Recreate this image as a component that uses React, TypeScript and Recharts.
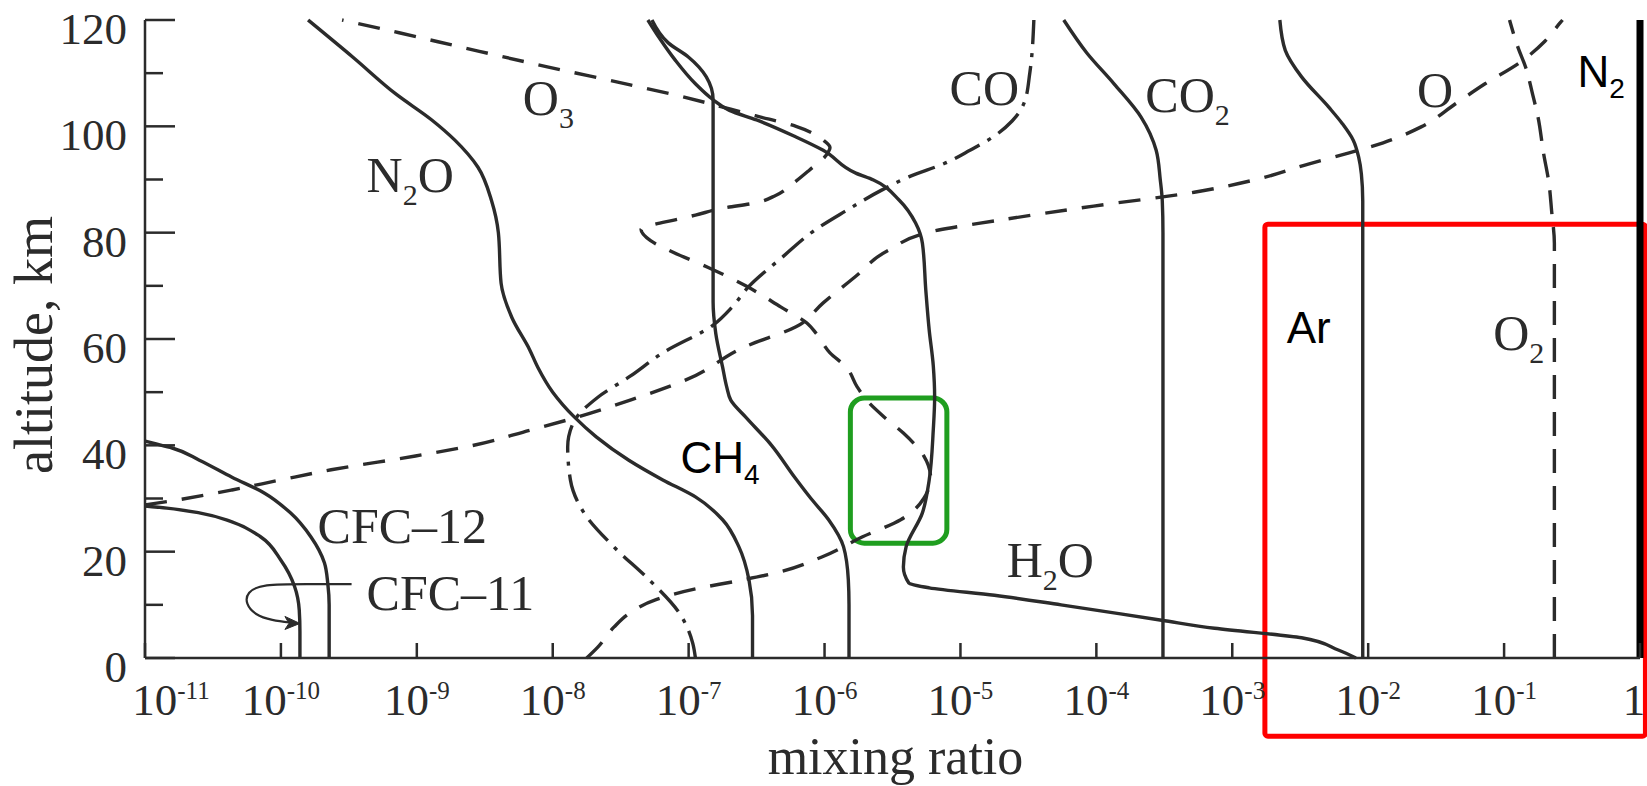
import React from 'react';
import { LineChart, Line, XAxis, YAxis, ReferenceArea, ReferenceDot } from 'recharts';

const INK = '#2b2b2b';
const SERIF = "'Liberation Serif', 'DejaVu Serif', serif";
const SANS = "'Liberation Sans', Arial, sans-serif";

// x is log10(mixing ratio), y is altitude in km
const decades = [-11, -10, -9, -8, -7, -6, -5, -4, -3, -2, -1, 0];
const altTicks = [0, 10, 20, 30, 40, 50, 60, 70, 80, 90, 100, 110, 120];

type Row = [number, number]; // [altitude, log10 ratio]

const cfc11: Row[] = [[0, -9.86], [5, -9.86], [9, -9.865], [13.5, -9.9], [18.4, -10.0], [22.8, -10.15], [25.6, -10.36], [27.3, -10.6], [28.2, -10.84], [28.6, -11]];
const cfc12: Row[] = [[0, -9.645], [10, -9.645], [14, -9.655], [17.9, -9.68], [22.8, -9.78], [27.3, -9.93], [31, -10.12], [34, -10.36], [37.2, -10.6], [39.5, -10.8], [40.4, -10.94], [40.8, -11]];
const n2o: Row[] = [[0, -6.53], [8, -6.53], [14.7, -6.556], [20.9, -6.63], [26, -6.75], [30.3, -6.95], [33.5, -7.19], [37.2, -7.44], [41.6, -7.68], [45.3, -7.84], [50, -8.0], [54.7, -8.11], [58, -8.17], [64, -8.3], [70.5, -8.38], [80, -8.4], [86, -8.45], [92.3, -8.55], [97.4, -8.72], [101.2, -8.89], [106, -9.15], [113, -9.47], [120, -9.8]];
const ch4: Row[] = [[0, -5.82], [10, -5.82], [14.7, -5.825], [20.9, -5.86], [26, -5.97], [30, -6.1], [34, -6.22], [40, -6.39], [45.3, -6.58], [48.5, -6.69], [51, -6.72], [54.7, -6.75], [61, -6.8], [67, -6.82], [80, -6.82], [95, -6.82], [105, -6.82], [109.3, -6.87], [113, -7.0], [115.7, -7.15], [120, -7.27]];
const h2o: Row[] = [[0, -2.09], [1.5, -2.22], [3.8, -2.49], [5.6, -3.13], [7.1, -3.52], [10, -4.26], [11.8, -4.75], [13.2, -5.23], [14.1, -5.38], [17.1, -5.42], [20.9, -5.4], [27.3, -5.28], [33.5, -5.23], [42.9, -5.2], [49, -5.19], [55, -5.2], [61.7, -5.23], [69.2, -5.255], [78, -5.28], [81.8, -5.33], [86.1, -5.45], [89.9, -5.64], [91.2, -5.77], [95.5, -6.01], [98, -6.21], [101.2, -6.5], [103, -6.7], [105, -6.82], [108, -6.95], [112.5, -7.1], [116.8, -7.22], [120, -7.3]];
const co2: Row[] = [[0, -3.51], [80, -3.51], [86, -3.515], [90, -3.53], [95.5, -3.56], [101.7, -3.67], [108, -3.87], [113.8, -4.07], [120, -4.24]];
const ar: Row[] = [[0, -2.04], [86, -2.04], [91, -2.05], [94.2, -2.07], [97.4, -2.11], [100.5, -2.19], [103.6, -2.29], [109.3, -2.49], [114.3, -2.61], [120, -2.65]];
const o2: Row[] = [[0, -0.63], [78, -0.63], [84, -0.65], [89.3, -0.67], [95, -0.71], [101.7, -0.75], [106, -0.79], [111, -0.84], [115, -0.9], [120, -0.96]];
const o3: Row[] = [[0, -7.75], [2, -7.67], [5.8, -7.55], [8.5, -7.43], [11, -7.24], [13, -6.95], [14.5, -6.64], [16, -6.36], [19, -6.02], [22.8, -5.72], [26, -5.44], [30, -5.27], [34, -5.22], [38, -5.27], [42.3, -5.42], [45.3, -5.56], [48.5, -5.69], [51, -5.76], [54.7, -5.84], [57.4, -5.96], [61, -6.06], [63, -6.13], [66, -6.32], [70, -6.58], [73.5, -6.86], [76.5, -7.13], [78.5, -7.28], [80.6, -7.35], [81.5, -7.26], [82.4, -7.1], [83.3, -6.95], [84.6, -6.75], [85.6, -6.51], [87, -6.36], [89.3, -6.23], [91.8, -6.11], [94.5, -5.99], [96, -5.96], [97.4, -6.01], [100, -6.21], [102, -6.51], [105.9, -7.1], [107.8, -7.43], [111.2, -8.04], [114.7, -8.64], [117.6, -9.13], [120, -9.55]];
const atomicO: Row[] = [[28.8, -11], [29.7, -10.77], [31.6, -10.36], [33.5, -10.0], [35.4, -9.63], [38, -9.01], [39.7, -8.64], [42.9, -8.16], [45.3, -7.82], [48.5, -7.43], [52.3, -7.02], [58.6, -6.58], [62.3, -6.21], [66.8, -6.01], [71.8, -5.77], [76.7, -5.53], [80.5, -5.16], [82.2, -4.75], [85, -4.02], [87.6, -3.28], [89.9, -2.84], [92.9, -2.44], [95, -2.14], [96.9, -1.89], [99.9, -1.61], [104.2, -1.36], [108, -1.14], [111.9, -0.89], [116, -0.7], [119.4, -0.59], [120, -0.57]];
const co: Row[] = [[0, -6.95], [2.8, -6.97], [8.5, -7.07], [14.7, -7.29], [20.9, -7.55], [27.3, -7.77], [33.5, -7.87], [39.7, -7.89], [44.2, -7.85], [49, -7.67], [53, -7.43], [57.4, -7.19], [62.6, -6.82], [66, -6.68], [69.8, -6.56], [75.4, -6.31], [80.5, -6.07], [84, -5.85], [88, -5.58], [90.5, -5.38], [93, -5.12], [95.5, -4.93], [98, -4.76], [101, -4.62], [104.5, -4.53], [110, -4.49], [120, -4.46]];
const n2: Row[] = [[0, 0], [120, 0]];

// hooked pointer from the CFC-11 label to its curve
const cfc11Pointer: Row[] = [[13.9, -9.48], [13.9, -9.81], [13.9, -10.14], [12.4, -10.25], [10.2, -10.26], [8.1, -10.19], [7.1, -10.07], [6.6, -9.91]];
const pointerTip: Row = [6.5, -9.86];

const labels = [
  { x: -9.37, alt: 87.6, main: 'N', sub: '2', tail: 'O' },
  { x: -8.22, alt: 102.1, main: 'O', sub: '3' },
  { x: -5.08, alt: 104.0, main: 'CO' },
  { x: -3.64, alt: 102.7, main: 'CO', sub: '2' },
  { x: -1.64, alt: 103.6, main: 'O' },
  { x: -0.46, alt: 107.4, main: 'N', sub: '2', sans: true },
  { x: -2.6, alt: 59.2, main: 'Ar', sans: true },
  { x: -1.08, alt: 57.9, main: 'O', sub: '2' },
  { x: -7.06, alt: 34.8, main: 'CH', sub: '4', sans: true },
  { x: -4.66, alt: 15.2, main: 'H', sub: '2', tail: 'O' },
  { x: -9.73, alt: 21.6, main: 'CFC\u201312' },
  { x: -9.37, alt: 9.0, main: 'CFC\u201311' },
];

const toPoints = (rows: Row[]) => rows.map(([alt, x]) => ({ x, alt }));

const series = [
  { key: 'cfc11', rows: cfc11 },
  { key: 'cfc12', rows: cfc12 },
  { key: 'n2o', rows: n2o },
  { key: 'ch4', rows: ch4 },
  { key: 'h2o', rows: h2o },
  { key: 'co2', rows: co2 },
  { key: 'ar', rows: ar },
  { key: 'o3', rows: o3, dash: '22 15' },
  { key: 'o', rows: atomicO, dash: '22 15' },
  { key: 'o2', rows: o2, dash: '24 13' },
  { key: 'co', rows: co, dash: '28 9 4 9' },
];

const BottomTick = (props: any) => {
  const { x, y, payload, index } = props;
  const v = payload.value as number;
  const dx = index === 0 ? 26 : v === 0 ? -6 : 0;
  return (
    <g>
      <line x1={x} y1={y} x2={x} y2={y - 15} stroke={INK} strokeWidth={2.5} />
      <text x={x + dx} y={y + 57} textAnchor="middle" fontFamily={SERIF} fontSize={45} fill={INK}>
        {v === 0 ? '1' : (
          <>
            10<tspan dy={-16} fontSize={25}>{v}</tspan>
          </>
        )}
      </text>
    </g>
  );
};

const TopTick = ({ x, y }: any) => <line x1={x} y1={y} x2={x} y2={y + 15} stroke={INK} strokeWidth={2.5} />;

const LeftTick = ({ x, y, payload }: any) => {
  const v = payload.value as number;
  const major = v % 20 === 0;
  return (
    <g>
      <line x1={x} y1={y} x2={x + (major ? 30 : 18)} y2={y} stroke={INK} strokeWidth={2.5} />
      {major && (
        <text x={x - 18} y={y + 24} textAnchor="end" fontFamily={SERIF} fontSize={45} fill={INK}>
          {v}
        </text>
      )}
    </g>
  );
};

const RightTick = ({ x, y }: any) => <line x1={x} y1={y} x2={x - 20} y2={y} stroke={INK} strokeWidth={2.5} />;

const XTitle = (props: any) => {
  const vb = props.viewBox ?? { x: 145, y: 658, width: 1495, height: 128 };
  return (
    <text x={vb.x + vb.width / 2 + 3} y={vb.y + 116} textAnchor="middle" fontFamily={SERIF} fontSize={52} fill={INK}>
      mixing ratio
    </text>
  );
};

const YTitle = (props: any) => {
  const vb = props.viewBox ?? { x: 0, y: 20, width: 145, height: 638 };
  return (
    <text
      transform={`translate(${vb.x + 52}, ${vb.y + vb.height / 2 + 6}) rotate(-90)`}
      textAnchor="middle"
      fontFamily={SERIF}
      fontSize={54}
      fill={INK}
    >
      altitude, km
    </text>
  );
};

const SpeciesLabel = ({ cx, cy, item }: any) => {
  const sans = !!item.sans;
  const size = sans ? 44 : 50;
  const subSize = sans ? 28 : 30;
  const drop = sans ? 11 : 13;
  return (
    <text x={cx} y={cy} fontFamily={sans ? SANS : SERIF} fontSize={size} fill={sans ? '#000' : INK}>
      {item.main}
      {item.sub && (
        <tspan dy={drop} fontSize={subSize}>
          {item.sub}
        </tspan>
      )}
      {item.tail && <tspan dy={-drop}>{item.tail}</tspan>}
    </text>
  );
};

const ArrowHead = ({ cx, cy }: any) => (
  <path d={`M${cx},${cy} l-15,-7 l4,7 l-4,6 z`} fill={INK} stroke={INK} strokeWidth={1} />
);

export default function App() {
  return (
    <div style={{ position: 'absolute', left: 0, top: 0, width: 1647, height: 786, background: '#fff' }}>
      <LineChart width={1647} height={786} margin={{ top: 20, right: 7, bottom: 0, left: 0 }}>
        <XAxis
          dataKey="x"
          type="number"
          domain={[-11, 0]}
          ticks={decades}
          interval={0}
          height={128}
          tickSize={0}
          tickMargin={0}
          tickLine={false}
          axisLine={{ stroke: INK, strokeWidth: 2.5 }}
          tick={<BottomTick />}
          label={<XTitle />}
        />
        <XAxis
          xAxisId="top"
          orientation="top"
          dataKey="x"
          type="number"
          domain={[-11, 0]}
          ticks={decades}
          interval={0}
          height={0}
          tickSize={0}
          tickMargin={0}
          tickLine={false}
          axisLine={{ stroke: INK, strokeWidth: 2.5 }}
          tick={<TopTick />}
        />
        <YAxis
          type="number"
          domain={[0, 120]}
          ticks={altTicks}
          interval={0}
          width={145}
          tickSize={0}
          tickMargin={0}
          tickLine={false}
          axisLine={{ stroke: INK, strokeWidth: 2.5 }}
          tick={<LeftTick />}
          label={<YTitle />}
        />
        <YAxis
          yAxisId="right"
          orientation="right"
          type="number"
          domain={[0, 120]}
          ticks={altTicks}
          interval={0}
          width={0}
          tickSize={0}
          tickMargin={0}
          tickLine={false}
          axisLine={{ stroke: INK, strokeWidth: 2.5 }}
          tick={<RightTick />}
        />

        {series.map((s) => (
          <Line
            key={s.key}
            data={toPoints(s.rows)}
            dataKey="alt"
            type="monotoneY"
            stroke={INK}
            strokeWidth={3.4}
            strokeDasharray={s.dash}
            dot={false}
            activeDot={false}
            legendType="none"
            isAnimationActive={false}
          />
        ))}
        <Line
          data={toPoints(n2)}
          dataKey="alt"
          type="linear"
          stroke="#000"
          strokeWidth={7}
          dot={false}
          activeDot={false}
          legendType="none"
          isAnimationActive={false}
        />
        <Line
          data={toPoints(cfc11Pointer)}
          dataKey="alt"
          type="basis"
          stroke={INK}
          strokeWidth={2.2}
          dot={false}
          activeDot={false}
          legendType="none"
          isAnimationActive={false}
        />
        <ReferenceDot x={pointerTip[1]} y={pointerTip[0]} r={0} ifOverflow="visible" shape={(p: any) => <ArrowHead {...p} />} />

        {labels.map((l, i) => (
          <ReferenceDot
            key={i}
            x={l.x}
            y={l.alt}
            r={0}
            ifOverflow="visible"
            shape={(p: any) => <SpeciesLabel {...p} item={l} />}
          />
        ))}

        <ReferenceArea
          x1={-5.81}
          x2={-5.1}
          y1={21.6}
          y2={48.9}
          ifOverflow="visible"
          fill="none"
          stroke="#1f9e1f"
          strokeWidth={5}
          radius={14}
        />
        <ReferenceArea
          x1={-2.76}
          x2={0.04}
          y1={-14.7}
          y2={81.6}
          ifOverflow="visible"
          fill="none"
          stroke="#ff0000"
          strokeWidth={5}
          radius={3}
        />
      </LineChart>
    </div>
  );
}
